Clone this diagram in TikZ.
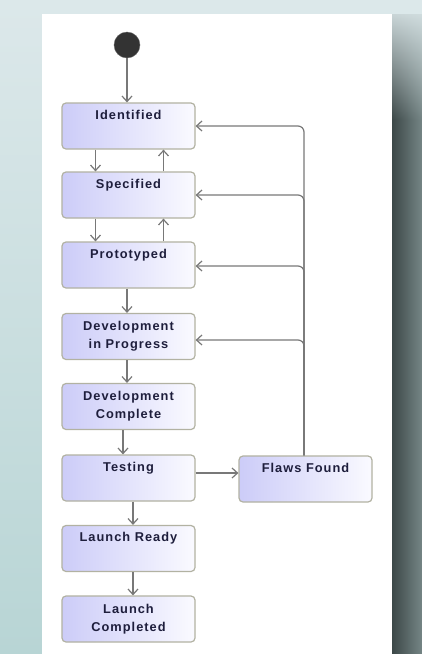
\documentclass[tikz,border=0pt]{standalone}
\usepackage{fontspec}
\usetikzlibrary{arrows.meta,fadings}
\newfontfamily\boxfont{Liberation Sans Bold}[LetterSpace=8]
\definecolor{bgtop}{HTML}{DCE8EA}
\definecolor{bgbot}{HTML}{B8D5D5}
\definecolor{shadl}{HTML}{3C4848}
\definecolor{shadr}{HTML}{758585}
\definecolor{boxl}{HTML}{CCCCF8}
\definecolor{boxr}{HTML}{FAFAFF}
\definecolor{boxline}{HTML}{B2B2A2}
\definecolor{txt}{HTML}{1E1E3C}
\definecolor{conn}{HTML}{787878}
\tikzset{
  state/.style={draw=boxline, line width=1.2pt, rounded corners=4pt,
    left color=boxl, right color=boxr, minimum width=133pt, minimum height=46pt,
    inner sep=0pt, align=center, text=txt,
    font=\boxfont\fontsize{12.8}{18}\selectfont},
  oneline/.style={text height=8pt, text depth=22pt},
  arr/.style={draw=conn, line width=1.2pt, -{Straight Barb[length=5.5pt,width=10pt]}},
  initst/.style={circle, fill=black!80, draw=black!60, minimum size=26pt, inner sep=0pt}
}
\begin{document}
\begin{tikzpicture}[x=1pt,y=-1pt]
\useasboundingbox (0,0) rectangle (422,654);
% background
\fill[top color=bgtop, bottom color=bgbot] (0,0) rectangle (422,654);
\fill[left color=shadl, right color=shadr] (392,14) rectangle (422,654);
\fill[bgtop, path fading=south] (392,0) rectangle (422,120);
\fill[white] (42,14) rectangle (392,654);
% nodes
\node[initst] (init) at (127,45) {};
\node[state, oneline] (ident) at (128.5,126) {Identified};
\node[state, oneline] (spec) at (128.5,195) {Specified};
\node[state, oneline] (proto) at (128.5,265) {Prototyped};
\node[state] (devip) at (128.5,336.5) {Development\\in Progress};
\node[state] (devc) at (128.5,406.5) {Development\\Complete};
\node[state, oneline] (test) at (128.5,478) {Testing};
\node[state, oneline] (lready) at (128.5,548.5) {Launch Ready};
\node[state] (lcomp) at (128.5,619) {Launch\\Completed};
\node[state, oneline] (flaws) at (305.5,479) {Flaws Found};
% connectors
\draw[arr] (init) -- (init |- ident.north);
\draw[arr] ([xshift=-33pt]ident.south) -- ([xshift=-33pt]spec.north);
\draw[arr] ([xshift=35pt]spec.north) -- ([xshift=35pt]ident.south);
\draw[arr] ([xshift=-33pt]spec.south) -- ([xshift=-33pt]proto.north);
\draw[arr] ([xshift=35pt]proto.north) -- ([xshift=35pt]spec.south);
\draw[arr] ([xshift=-1.5pt]proto.south) -- ([xshift=-1.5pt]devip.north);
\draw[arr] ([xshift=-1.5pt]devip.south) -- ([xshift=-1.5pt]devc.north);
\draw[arr] ([xshift=-5.5pt]devc.south) -- ([xshift=-5.5pt]test.north);
\draw[arr] ([xshift=4.5pt]test.south) -- ([xshift=4.5pt]lready.north);
\draw[arr] ([xshift=4.5pt]lready.south) -- ([xshift=4.5pt]lcomp.north);
\draw[arr] ([yshift=5pt]test.east) -- ([yshift=5pt]test.east -| flaws.west);
\coordinate (fup) at ([xshift=-1.5pt]flaws.north);
\draw[arr, rounded corners=6pt] (fup) |- (ident.east);
\draw[arr, rounded corners=6pt] (fup) |- (spec.east);
\draw[arr, rounded corners=6pt] (fup) |- ([yshift=-1pt]proto.east);
\draw[arr, rounded corners=6pt] (fup) |- ([yshift=-3.5pt]devip.east);
\end{tikzpicture}
\end{document}
